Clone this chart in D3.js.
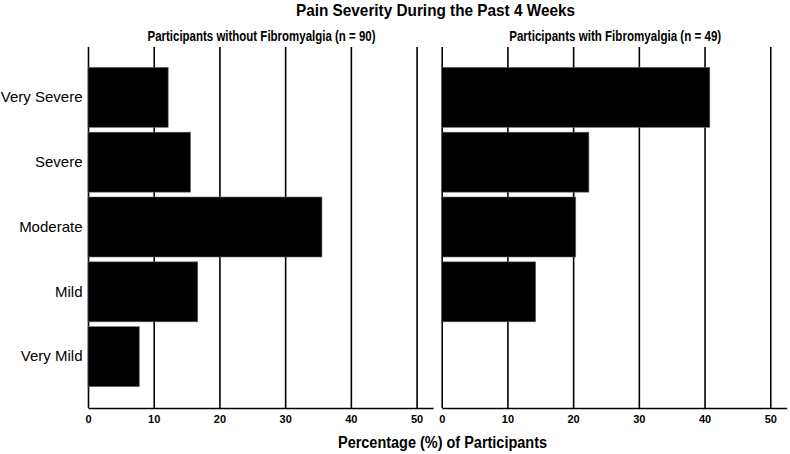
<!DOCTYPE html>
<html>
<head>
<meta charset="utf-8">
<script src="https://d3js.org/d3.v7.min.js"></script>
<style>
  body { margin: 0; background: #fff; }
  text { font-family: "Liberation Sans", Arial, sans-serif; }
</style>
</head>
<body>
<div id="chart"></div>
<script>
// data (percent of participants)
var categories = ["Very Severe", "Severe", "Moderate", "Mild", "Very Mild"];
var withoutFM = [12.2, 15.6, 35.6, 16.7, 7.8];
var withFM = [40.8, 22.4, 20.4, 14.3, 0];
var panelTitles = ["Participants without Fibromyalgia (n = 90)", "Participants with Fibromyalgia (n = 49)"];
var xTicks = [0, 10, 20, 30, 40, 50];

var width = 790, height = 454;
var plotTop = 47, plotBottom = 408;

var svg = d3.select("#chart").append("svg")
  .attr("width", width)
  .attr("height", height);

// title
svg.append("text")
  .attr("x", 435.5).attr("y", 15.5)
  .attr("text-anchor", "middle")
  .style("font-size", "17px").style("font-weight", "bold")
  .attr("textLength", 279).attr("lengthAdjust", "spacingAndGlyphs")
  .text("Pain Severity During the Past 4 Weeks");

// shared y scale
var y = d3.scaleBand()
  .domain(categories)
  .range([64.9, 389.1])
  .paddingInner(0.075)
  .paddingOuter(0.0375);

var panels = [
  {x0: 88, values: withoutFM, title: panelTitles[0], tw: 228},
  {x0: 441.7, values: withFM, title: panelTitles[1], tw: 212}
];

panels.forEach(function(p, i) {
  var x = d3.scaleLinear()
    .domain([0, 52.5])
    .range([p.x0, p.x0 + 345]);

  var g = svg.append("g");

  // panel subtitle
  g.append("text")
    .attr("x", (p.x0 + p.x0 + 345) / 2 + 1).attr("y", 40.5)
    .attr("text-anchor", "middle")
    .style("font-size", "14px").style("font-weight", "bold")
    .attr("textLength", p.tw).attr("lengthAdjust", "spacingAndGlyphs")
    .text(p.title);

  // x axis with full-height grid lines
  var ax = g.append("g")
    .attr("transform", "translate(0," + plotBottom + ")")
    .call(d3.axisBottom(x).tickValues(xTicks).tickSize(-(plotBottom - plotTop)).tickSizeOuter(0).tickPadding(7.5));
  ax.select(".domain").attr("stroke", "#000").attr("stroke-width", 1.6);
  ax.selectAll(".tick line").attr("stroke", "#000").attr("stroke-width", 1.6);
  ax.selectAll(".tick text")
    .style("font-size", "11px").style("font-weight", "bold")
    .attr("fill", "#000");

  // bars
  g.selectAll("rect")
    .data(categories.map(function(c, j) { return {cat: c, v: p.values[j]}; }).filter(function(d) { return d.v > 0; }))
    .enter().append("rect")
      .attr("x", x(0))
      .attr("y", function(d) { return y(d.cat); })
      .attr("width", function(d) { return x(d.v) - x(0); })
      .attr("height", y.bandwidth())
      .attr("fill", "#000")
      .attr("stroke", "#666")
      .attr("stroke-width", 0.6);

  // category labels only on the left panel
  if (i == 0) {
    var ay = g.append("g")
      .attr("transform", "translate(" + p.x0 + ",0)")
      .call(d3.axisLeft(y).tickSize(0).tickPadding(5.5));
    ay.select(".domain").remove();
    ay.selectAll("text").style("font-size", "15px").attr("fill", "#000");
  }
});

// x axis title
svg.append("text")
  .attr("x", 442.5).attr("y", 447.5)
  .attr("text-anchor", "middle")
  .style("font-size", "16px").style("font-weight", "bold")
  .attr("textLength", 209).attr("lengthAdjust", "spacingAndGlyphs")
  .text("Percentage (%) of Participants");
</script>
</body>
</html>
